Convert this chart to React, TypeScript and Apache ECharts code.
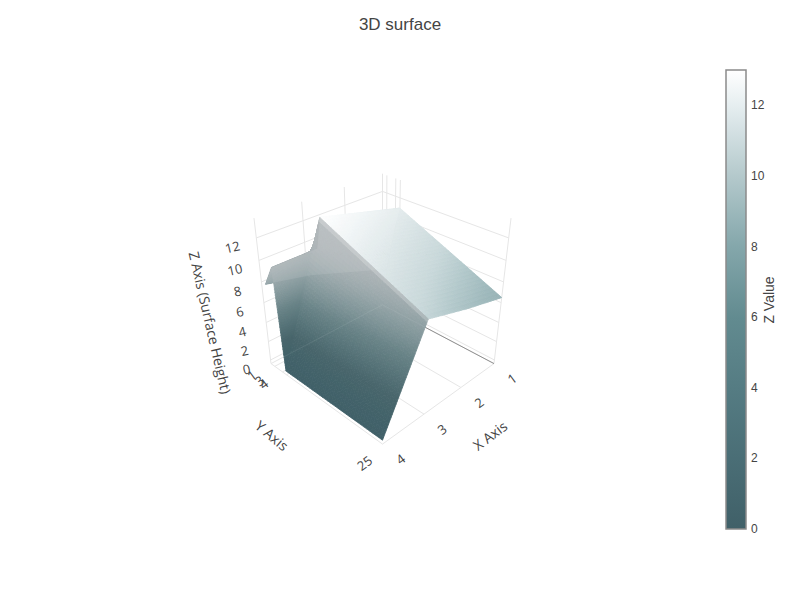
import React, { useEffect, useRef } from "react";
import * as echarts from "echarts";

const xValues = [1, 2, 3, 4];
const yValues = [1, 3, 4, 25];
const zRows = [
  [4, 5.5, 7, 8],
  [9, 9.5, 10, 10],
  [11, 12, 13, 0],
  [6.5, 7.5, 8.7, 0],
];
const xRange = [1, 4];
const yRange = [0, 25];
const zRange = [-0.4, 13.7];
const zTicks = [0, 2, 4, 6, 8, 10, 12];
const colorStops: [number, number[]][] = [
  [0, [64, 96, 104]],
  [2, [74, 110, 118]],
  [4, [85, 124, 131]],
  [6, [98, 139, 144]],
  [8, [132, 167, 171]],
  [10, [180, 201, 204]],
  [12, [230, 238, 240]],
  [13, [255, 255, 255]],
];
const GRID = "#e6e6e6";
const TEXT = "#444";
const FONT = "'Open Sans', sans-serif";
const BAR_FONT = "'Liberation Sans', Arial, sans-serif";

// camera
const EL = (31 * Math.PI) / 180;
const DIST = 7.26;
const F = 613;
const CX = 382.5;
const CY = 296;

function scene(x: number, y: number, z: number) {
  return [
    ((x - xRange[0]) / (xRange[1] - xRange[0])) * 2 - 1,
    ((y - yRange[0]) / (yRange[1] - yRange[0])) * 2 - 1,
    ((z - zRange[0]) / (zRange[1] - zRange[0])) * 2 - 1,
  ];
}
function project(x: number, y: number, z: number): number[] {
  const [X, Y, Z] = scene(x, y, z);
  const g = (X + Y) / Math.SQRT2;
  const r = (Y - X) / Math.SQRT2;
  const t = DIST - g * Math.cos(EL) - Z * Math.sin(EL);
  const v = -g * Math.sin(EL) + Z * Math.cos(EL);
  return [CX + (F * r) / t, CY - (F * v) / t];
}
function base(z: number): number[] {
  for (let i = 1; i < colorStops.length; i++) {
    if (z <= colorStops[i][0]) {
      const [a, ca] = colorStops[i - 1];
      const [b, cb] = colorStops[i];
      const t = Math.max(0, (z - a) / (b - a));
      return ca.map((c, k) => c + (cb[k] - c) * t);
    }
  }
  return colorStops[colorStops.length - 1][1];
}
const mix = (a: number[], b: number[], t: number) => a.map((c, k) => c + (b[k] - c) * t);
const css = (c: number[]) => `rgb(${c.map((v) => Math.round(Math.min(255, v))).join(",")})`;
const clamp01 = (v: number) => Math.max(0, Math.min(1, v));

function shade(z: number, steep: boolean, u: number) {
  const b = base(z);
  if (!steep) return mix(b, [255, 255, 255], 0.3 + 0.15 * clamp01((z - 7) / 2));
  const dark = b.map((c) => c * (1 - 0.18 * clamp01(z / 3)));
  const k = Math.min(1, z / 13);
  const t = Math.min(0.92, Math.pow(k, 2) * 1.25);
  const c = mix(dark, [176, 182, 185], t);
  return u > 0.97 ? mix(c, [255, 255, 255], (u - 0.97) * 12) : c;
}

type Quad = { pts: number[][]; fill: string };
function buildQuads(): Quad[] {
  const out: Quad[] = [];
  for (let j = 0; j < yValues.length - 1; j++) {
    for (let i = 0; i < xValues.length - 1; i++) {
      const n = i === 2 ? 36 : j === 2 ? 32 : 6;
      const steep = i === 2;
      const zAt = (a: number, b: number) =>
        (zRows[j][i] * (1 - a) + zRows[j][i + 1] * a) * (1 - b) +
        (zRows[j + 1][i] * (1 - a) + zRows[j + 1][i + 1] * a) * b;
      const xAt = (a: number) => xValues[i] + (xValues[i + 1] - xValues[i]) * a;
      const yAt = (b: number) => yValues[j] + (yValues[j + 1] - yValues[j]) * b;
      for (let p = 0; p < n; p++) {
        for (let q = 0; q < n; q++) {
          const a0 = p / n, a1 = (p + 1) / n, b0 = q / n, b1 = (q + 1) / n;
          const am = (a0 + a1) / 2, bm = (b0 + b1) / 2;
          const zm = zAt(am, bm);
          out.push({
            pts: [
              project(xAt(a0), yAt(b0), zAt(a0, b0)),
              project(xAt(a1), yAt(b0), zAt(a1, b0)),
              project(xAt(a1), yAt(b1), zAt(a1, b1)),
              project(xAt(a0), yAt(b1), zAt(a0, b1)),
            ],
            fill: css(shade(zm, steep, 1 - am)),
          });
        }
      }
    }
  }
  return out;
}

type Seg = { a: number[]; b: number[]; color: string; w: number };
function buildGrid(): Seg[] {
  const zLo = zRange[0], zHi = zRange[1];
  const [x0, x1] = xRange, [y0, y1] = yRange;
  const s: Seg[] = [];
  const add = (a: number[], b: number[], color = GRID, w = 1) =>
    s.push({ a: project(a[0], a[1], a[2]), b: project(b[0], b[1], b[2]), color, w });
  for (const x of xValues) {
    add([x, y0, zLo], [x, y0, zHi]);
    add([x, y0, zLo], [x, y1, zLo]);
  }
  for (const y of [y0, ...yValues]) {
    add([x0, y, zLo], [x0, y, zHi]);
    add([x0, y, zLo], [x1, y, zLo]);
  }
  for (const z of zTicks) {
    add([x0, y0, z], [x1, y0, z]);
    add([x0, y0, z], [x0, y1, z]);
  }
  add([x0, y0, zLo], [x0, y1, zLo], "#8f8f8f", 1);
  return s;
}

function seeThrough() {
  const zLo = zRange[0];
  return [
    { a: project(xRange[0], yRange[0], zLo), b: project(xRange[0], yValues[3] * 0.42, zLo) },
    { a: project(xRange[0], yRange[0], zLo), b: project(3.85, yRange[0], zLo) },
  ];
}

function backOutline() {
  const at = (i: number, j: number) => project(xValues[i], yValues[j], zRows[j][i]);
  return [at(3, 0), at(2, 0), at(1, 0), at(0, 0), at(0, 1), at(0, 2), at(1, 2), at(2, 2), at(2, 1), at(3, 1)];
}

type Label = { text: string; p: number[]; rot: number; size: number; font?: string };
function buildLabels(): Label[] {
  const L: Label[] = [];
  const zLo = zRange[0];
  const off = (p: number[], dx: number, dy: number) => [p[0] + dx, p[1] + dy];
  for (const x of xValues)
    L.push({ text: String(x), p: off(project(x, yRange[1], zLo), 18, 15), rot: 37, size: 13 });
  for (const y of yValues)
    L.push({
      text: String(y),
      p: off(project(xRange[1], y, zLo), y === 25 ? -18 : -23, y === 25 ? 19 : 9),
      rot: 37,
      size: 13,
    });
  for (const z of zTicks)
    L.push({ text: String(z), p: off(project(xRange[1], yRange[0], z), -24, 9), rot: 13, size: 13 });
  L.push({ text: "X Axis", p: off(project(xRange[0] + 1.5, yRange[1], zLo), 47, 35), rot: 37, size: 14 });
  L.push({ text: "Y Axis", p: off(project(xRange[1], yRange[1] * 0.5, zLo), -50, 35), rot: -40, size: 14 });
  L.push({ text: "Z Axis (Surface Height)", p: off(project(xRange[1], yRange[0], 4.8), -55, 8), rot: -77, size: 14 });
  L.push({ text: "Z Value", p: [769, 300], rot: 90, size: 14, font: BAR_FONT });
  return L;
}

export default function App() {
  const ref = useRef<HTMLDivElement>(null);
  useEffect(() => {
    const chart = echarts.init(ref.current!, undefined, { renderer: "svg" });
    const quads = buildQuads();
    const grid = buildGrid();
    const labels = buildLabels();
    const faint = seeThrough();
    const outline = backOutline();
    const idx = (arr: unknown[]) => arr.map((_, i) => [i, 0]);
    const pt = (api: any, p: number[]) => api.coord(p);
    chart.setOption({
      animation: false,
      backgroundColor: "#fff",
      title: {
        text: "3D surface",
        left: "center",
        top: 11,
        textStyle: { fontFamily: BAR_FONT, fontSize: 17, fontWeight: "normal", color: TEXT },
      },
      grid: [
        { left: 0, top: 0, width: 800, height: 600 },
        { left: 726, top: 70, width: 20, height: 459 },
      ],
      xAxis: [
        { type: "value", min: 0, max: 800, show: false, gridIndex: 0 },
        { type: "value", min: 0, max: 1, show: false, gridIndex: 1 },
      ],
      yAxis: [
        { type: "value", min: 0, max: 600, inverse: true, show: false, gridIndex: 0 },
        {
          type: "value",
          min: 0,
          max: 13,
          interval: 2,
          gridIndex: 1,
          position: "right",
          axisLine: { show: false },
          axisTick: { show: false },
          splitLine: { show: false },
          axisLabel: {
            showMaxLabel: false,
            margin: 5,
            fontFamily: BAR_FONT,
            fontSize: 12,
            color: TEXT,
          },
        },
      ],
      series: [
        {
          type: "custom",
          coordinateSystem: "cartesian2d",
          xAxisIndex: 0,
          yAxisIndex: 0,
          silent: true,
          clip: false,
          z: 1,
          data: idx(grid),
          renderItem: (p: any, api: any) => {
            const s = grid[p.dataIndex];
            const a = pt(api, s.a), b = pt(api, s.b);
            return {
              type: "line",
              shape: { x1: a[0], y1: a[1], x2: b[0], y2: b[1] },
              style: { stroke: s.color, lineWidth: s.w },
            };
          },
        },
        {
          type: "custom",
          coordinateSystem: "cartesian2d",
          xAxisIndex: 0,
          yAxisIndex: 0,
          silent: true,
          clip: false,
          progressive: 0,
          z: 2,
          data: idx(quads),
          renderItem: (p: any, api: any) => {
            const q = quads[p.dataIndex];
            return {
              type: "polygon",
              shape: { points: q.pts.map((v) => pt(api, v)) },
              style: { fill: q.fill, stroke: q.fill, lineWidth: 0.8 },
            };
          },
        },
        {
          type: "custom",
          coordinateSystem: "cartesian2d",
          xAxisIndex: 0,
          yAxisIndex: 0,
          silent: true,
          clip: false,
          z: 3,
          data: [[0, 0]],
          renderItem: (_p: any, api: any) => ({
            type: "polygon",
            shape: { points: outline.map((v) => pt(api, v)) },
            style: { fill: "rgba(255,255,255,0.10)" },
          }),
        },
        {
          type: "custom",
          coordinateSystem: "cartesian2d",
          xAxisIndex: 0,
          yAxisIndex: 0,
          silent: true,
          clip: false,
          z: 3,
          data: idx(faint),
          renderItem: (p: any, api: any) => {
            const s = faint[p.dataIndex];
            const a = pt(api, s.a), b = pt(api, s.b);
            return {
              type: "line",
              shape: { x1: a[0], y1: a[1], x2: b[0], y2: b[1] },
              style: { stroke: "rgba(230,235,236,0.10)", lineWidth: 1 },
            };
          },
        },
        {
          type: "custom",
          coordinateSystem: "cartesian2d",
          xAxisIndex: 0,
          yAxisIndex: 0,
          silent: true,
          clip: false,
          z: 4,
          data: idx(labels),
          renderItem: (p: any, api: any) => {
            const l = labels[p.dataIndex];
            const c = pt(api, l.p);
            return {
              type: "text",
              x: c[0],
              y: c[1],
              rotation: (l.rot * Math.PI) / 180,
              style: {
                text: l.text,
                fill: TEXT,
                font: `${l.size}px ${l.font ?? FONT}`,
                align: "center",
                verticalAlign: "middle",
              },
            };
          },
        },
        {
          type: "custom",
          coordinateSystem: "cartesian2d",
          xAxisIndex: 1,
          yAxisIndex: 1,
          silent: true,
          clip: false,
          z: 1,
          data: [[0, 0]],
          renderItem: (_p: any, api: any) => {
            const lo = api.coord([0, 0]);
            const hi = api.coord([1, 13]);
            return {
              type: "rect",
              shape: { x: lo[0], y: hi[1], width: hi[0] - lo[0], height: lo[1] - hi[1] },
              style: {
                fill: new echarts.graphic.LinearGradient(
                  0,
                  1,
                  0,
                  0,
                  colorStops.map(([z, c]) => ({ offset: z / 13, color: css(c) }))
                ),
                stroke: "#8a8a8a",
                lineWidth: 1.5,
              },
            };
          },
        },
      ],
    });
    return () => chart.dispose();
  }, []);
  return (
    <div
      ref={ref}
      style={{ position: "absolute", left: 0, top: 0, width: 800, height: 600 }}
    />
  );
}
